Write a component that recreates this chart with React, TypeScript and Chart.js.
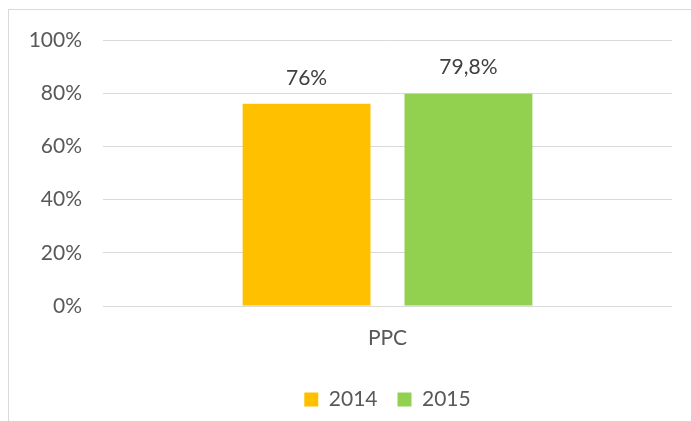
import React, { useEffect, useRef } from "react";
import { Chart, registerables } from "chart.js";

Chart.register(...registerables);

const categories = ["PPC"];
const seriesNames = ["2014", "2015"];
const values2014 = [0.76];
const values2015 = [0.798];
const colors = ["#FFC000", "#92D050"];
const yTicks = [0, 0.2, 0.4, 0.6, 0.8, 1];

const FONT = "Lato";
const TEXT = "#595959";

const fmt = (v: number) => {
  const p = Math.round(v * 1000) / 10;
  return String(p).replace(".", ",") + "%";
};

const labelPlugin = {
  id: "valueLabels",
  afterDatasetsDraw(chart: any) {
    const ctx = chart.ctx;
    ctx.save();
    ctx.font = `21px ${FONT}`;
    ctx.fillStyle = "#404040";
    ctx.textAlign = "center";
    ctx.textBaseline = "middle";
    chart.data.datasets.forEach((ds: any, i: number) => {
      const meta = chart.getDatasetMeta(i);
      meta.data.forEach((el: any, j: number) => {
        ctx.fillText(fmt(ds.data[j]), el.x, el.y - 26);
      });
    });
    ctx.restore();
  },
};

export default function App() {
  const ref = useRef<HTMLCanvasElement>(null);
  useEffect(() => {
    if (!ref.current) return;
    const chart = new Chart(ref.current, {
      type: "bar",
      data: {
        labels: categories,
        datasets: [
          { label: seriesNames[0], data: values2014, backgroundColor: colors[0] },
          { label: seriesNames[1], data: values2015, backgroundColor: colors[1] },
        ],
      },
      options: {
        animation: false,
        responsive: false,
        maintainAspectRatio: false,
        layout: { padding: { top: 40, right: 19, left: 0, bottom: 1 } },
        datasets: { bar: { categoryPercentage: 0.569, barPercentage: 0.79 } },
        plugins: {
          legend: {
            position: "bottom",
            fullSize: false,
            labels: {
              boxWidth: 14,
              boxHeight: 14,
              padding: 20,
              color: TEXT,
              font: { family: FONT, size: 21 },
            },
          },
          tooltip: { enabled: false },
        },
        scales: {
          x: {
            grid: { display: false, drawTicks: false },
            border: { display: false },
            ticks: { color: TEXT, font: { family: FONT, size: 21 }, padding: 20 },
            afterFit: (s: any) => { s.height = 63; },
          },
          y: {
            min: 0,
            max: 1,
            afterBuildTicks: (s: any) => { s.ticks = yTicks.map((v) => ({ value: v })); },
            ticks: {
              color: TEXT,
              font: { family: FONT, size: 21 },
              padding: 21,
              callback: (v: any) => Math.round(Number(v) * 100) + "%",
            },
            grid: { color: "#d9d9d9", lineWidth: 1, drawTicks: false },
            border: { display: false },
            afterFit: (s: any) => { s.width = 103; },
          },
        },
      },
      plugins: [labelPlugin],
    });
    return () => chart.destroy();
  }, []);
  return (
    <div style={{ position: "fixed", left: 0, top: 0, width: 691, height: 421, overflow: "hidden", background: "#fff" }}>
      <div style={{ position: "absolute", left: 8, top: 9, width: 800, height: 500, border: "1px solid #d9d9d9" }} />
      <canvas ref={ref} width={691} height={421} style={{ position: "absolute", left: 0, top: 0, width: 691, height: 421 }} />
    </div>
  );
}
